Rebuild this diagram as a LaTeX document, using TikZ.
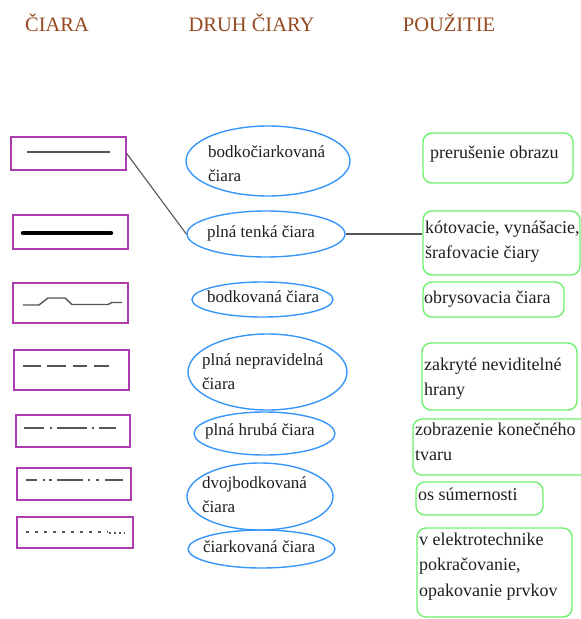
\documentclass[tikz,border=0pt]{standalone}
\usepackage{fontspec}
\setmainfont{Liberation Serif}
\usetikzlibrary{shapes.geometric}
\definecolor{hdr}{RGB}{150,72,30}
\definecolor{pbord}{RGB}{170,60,175}
\definecolor{eblue}{RGB}{55,150,250}
\definecolor{rgreen}{RGB}{110,240,110}
\definecolor{lgray}{RGB}{85,85,85}
\definecolor{txtc}{RGB}{30,30,30}
\newcommand{\mylines}[1]{\begin{tabular}[t]{@{}l@{}}#1\end{tabular}}
\tikzset{
  hdrtxt/.style={anchor=base, inner sep=0pt, text=hdr, font=\fontsize{20.5}{24}\selectfont},
  pbox/.style={draw=pbord, line width=1.4pt, rectangle, inner sep=0pt},
  ebox/.style={draw=eblue, line width=1.4pt, ellipse, inner sep=0pt},
  rbox/.style={draw=rgreen, line width=1.4pt, rectangle, rounded corners=9pt, inner sep=0pt},
  etxt/.style={anchor=base west, inner sep=0pt, text=txtc, font=\fontsize{17}{24}\selectfont},
  rtxt/.style={anchor=base west, inner sep=0pt, text=txtc, font=\fontsize{18}{25.5}\selectfont},
  sample/.style={draw=lgray, line width=1.6pt},
  conn/.style={draw=lgray, line width=1.1pt}
}
\begin{document}
\begin{tikzpicture}[x=1pt,y=-1pt]
\useasboundingbox (0,0) rectangle (581,619);
% headers
\node[hdrtxt] (h1) at (57,31) {ČIARA};
\node[hdrtxt] (h2) at (251.5,31) {DRUH ČIARY};
\node[hdrtxt] (h3) at (449,31) {POUŽITIE};
% left boxes
\node[pbox, minimum width=115pt, minimum height=33pt] (l1) at (68.5,153.5) {};
\node[pbox, minimum width=115pt, minimum height=34pt] (l2) at (70.5,232) {};
\node[pbox, minimum width=115pt, minimum height=40pt] (l3) at (70.5,303) {};
\node[pbox, minimum width=115pt, minimum height=40pt] (l4) at (71.5,370) {};
\node[pbox, minimum width=114pt, minimum height=32pt] (l5) at (73,431) {};
\node[pbox, minimum width=114pt, minimum height=32pt] (l6) at (74,484) {};
\node[pbox, minimum width=116pt, minimum height=31pt] (l7) at (75,532.5) {};
% line samples
\draw[sample, line width=1.3pt] (27,152) -- (110,152);
\draw[draw=black, line width=4.5pt, line cap=round] (23,233) -- (111,233);
\draw[sample, line width=1.4pt] (23,305) -- (39,305) -- (48,298) -- (65,298) -- (72,304.5) -- (108,304.5) -- (112,302.5) -- (122,302.5);
\draw[sample, dash pattern=on 18pt off 6pt on 19pt off 7pt on 14pt off 7pt on 15pt off 20pt] (23,366) -- (109,366);
\draw[sample, dash pattern=on 20pt off 6pt on 2pt off 5pt on 30pt off 5pt on 2pt off 5pt on 17pt off 20pt] (24,428) -- (116,428);
\draw[sample, dash pattern=on 11pt off 6pt on 1.5pt off 4.5pt on 3pt off 5pt on 26pt off 5pt on 2pt off 6pt on 3pt off 6pt on 18pt off 20pt] (26,480) -- (123,480);
\draw[sample, line width=1.7pt, dash pattern=on 3pt off 6pt] (26,532) -- (108,532);
\draw[sample, line width=1.2pt, dash pattern=on 1.5pt off 3.5pt] (109,533) -- (125,533);
% ellipses
\node[ebox, minimum width=164pt, minimum height=70pt] (e1) at (268,161) {};
\node[ebox, minimum width=158pt, minimum height=46pt] (e2) at (266,234) {};
\node[ebox, minimum width=141pt, minimum height=35pt] (e3) at (262.5,299.5) {};
\node[ebox, minimum width=159pt, minimum height=76pt] (e4) at (267.5,372) {};
\node[ebox, minimum width=141pt, minimum height=43pt] (e5) at (264.5,433.5) {};
\node[ebox, minimum width=146pt, minimum height=67pt] (e6) at (260,496.5) {};
\node[ebox, minimum width=147pt, minimum height=38pt] (e7) at (261.5,549) {};
\node[etxt] (t1) at (208,157) {\mylines{bodkočiarkovaná\\čiara}};
\node[etxt] (t2) at (207,237) {plná tenká čiara};
\node[etxt] (t3) at (207,302) {bodkovaná čiara};
\node[etxt] (t4) at (202,365) {\mylines{plná nepravidelná\\čiara}};
\node[etxt] (t5) at (205,435) {plná hrubá čiara};
\node[etxt] (t6) at (202,488) {\mylines{dvojbodkovaná\\čiara}};
\node[etxt] (t7) at (203,552) {čiarkovaná čiara};
% right boxes
\node[rbox, minimum width=150pt, minimum height=50pt] (r1) at (498,158) {};
\node[rbox, minimum width=157pt, minimum height=64pt] (r2) at (501.5,243) {};
\node[rbox, minimum width=141pt, minimum height=35pt] (r3) at (493.5,299.5) {};
\node[rbox, minimum width=155pt, minimum height=67pt] (r4) at (499.5,376.5) {};
\node[rbox, minimum width=182pt, minimum height=56pt] (r5) at (504,447) {};
\node[rbox, minimum width=127pt, minimum height=33pt] (r6) at (479.5,498.5) {};
\node[rbox, minimum width=155pt, minimum height=89pt] (r7) at (494.5,572.5) {};
\node[rtxt] (u1) at (430,158) {prerušenie obrazu};
\node[rtxt] (u2) at (425,233) {\mylines{kótovacie, vynášacie,\\šrafovacie čiary}};
\node[rtxt] (u3) at (424,303) {obrysovacia čiara};
\node[rtxt] (u4) at (424,370) {\mylines{zakryté neviditelné\\hrany}};
\node[rtxt] (u5) at (415,435) {\mylines{zobrazenie konečného\\tvaru}};
\node[rtxt] (u6) at (418,500) {os súmernosti};
\node[rtxt] (u7) at (419,545) {\mylines{v elektrotechnike\\pokračovanie,\\opakovanie prvkov}};
% connectors
\draw[conn] (l1.east) -- (e2.west);
\draw[conn] (e2.east) -- (e2.east -| r2.west);
\end{tikzpicture}
\end{document}
